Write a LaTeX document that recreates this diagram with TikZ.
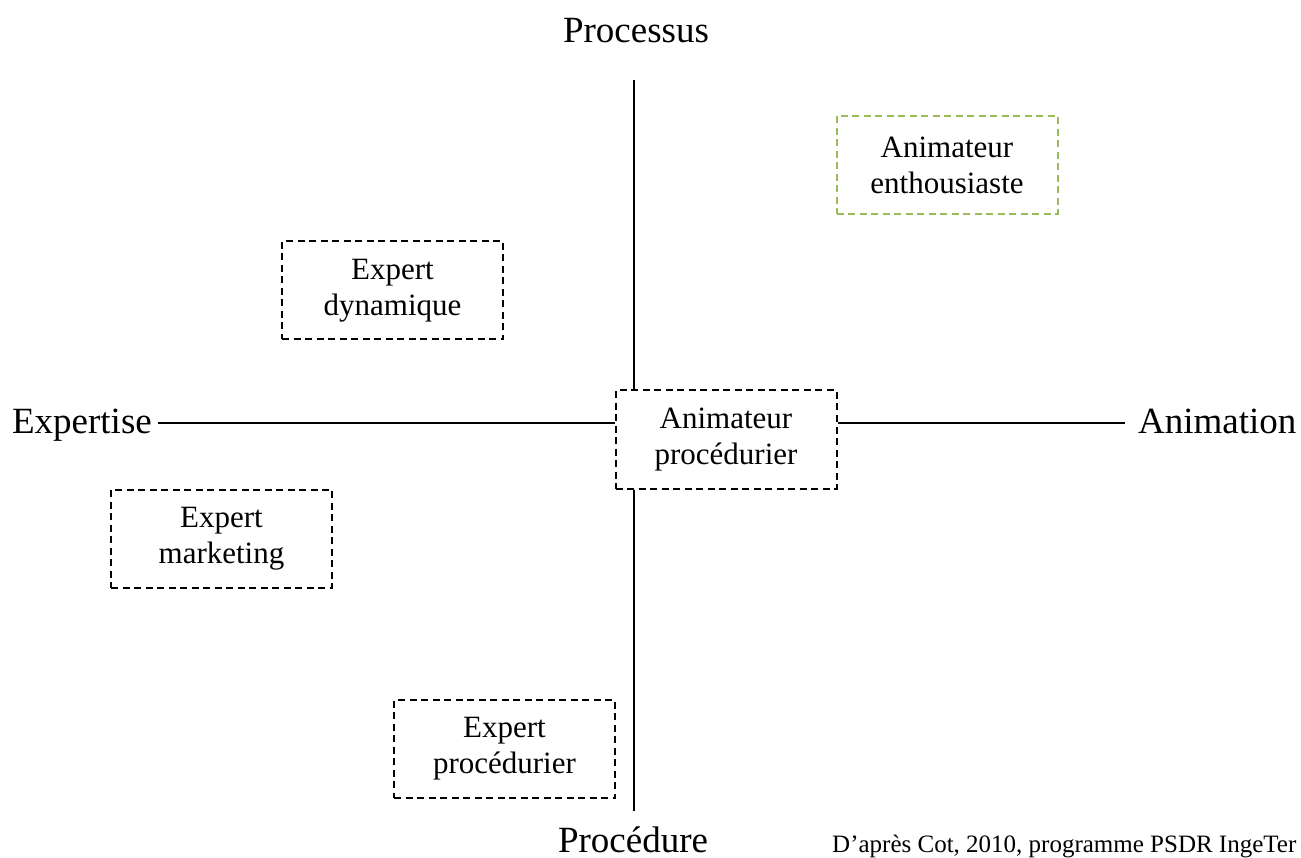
\documentclass[tikz,border=0pt]{standalone}
\usepackage{fontspec}
\setmainfont{Liberation Serif}
\definecolor{olivegreen}{HTML}{9BBB59}
\begin{document}
\begin{tikzpicture}[x=1pt,y=-1pt,
  role/.style={draw=black, line width=2pt, dash pattern=on 7pt off 4.5pt,
    minimum width=221pt, minimum height=98pt, align=center, inner sep=0pt,
    font=\fontsize{31}{36}\selectfont,
    execute at begin node={\rule{0pt}{41pt}}},
  greenrole/.style={role, draw=olivegreen},
  axislabel/.style={inner sep=0pt, font=\fontsize{37}{44}\selectfont},
  axis/.style={line width=1.6pt}]
\useasboundingbox (0,0) rectangle (1301,858);
% boxes
\node[role] (ap) at (726,439.5) {Animateur\\procédurier};
\node[role] (ed) at (392.5,290.5) {Expert\\dynamique};
\node[greenrole] (ae) at (947,165) {Animateur\\enthousiaste};
\node[role] (em) at (221.5,538.5) {Expert\\marketing};
\node[role] (ep) at (504.5,749) {Expert\\procédurier};
% axis labels
\node[axislabel, anchor=base] (proc) at (636,43) {Processus};
\node[axislabel, anchor=base, text depth=0pt] (pced) at (633,852) {Procédure};
\node[axislabel, anchor=base east] (expt) at (152,433) {Expertise};
\node[axislabel, anchor=base west] (anim) at (1138,433) {Animation};
% axis endpoints
\coordinate (vtop) at (634,80);
\coordinate (vbot) at (634,811);
\coordinate (hleft) at (158,423);
\coordinate (hright) at (1125,423);
% axes
\draw[axis] (vtop) -- (vtop |- ap.north);
\draw[axis] (ap.south -| vbot) -- (vbot);
\draw[axis] (hleft) -- (ap.west |- hleft);
\draw[axis] (ap.east |- hright) -- (hright);
% source
\node[anchor=base west, inner sep=0pt, text depth=0pt, font=\fontsize{25}{30}\selectfont] (src) at (832,852) {D’après Cot, 2010, programme PSDR IngeTer};
\end{tikzpicture}
\end{document}
